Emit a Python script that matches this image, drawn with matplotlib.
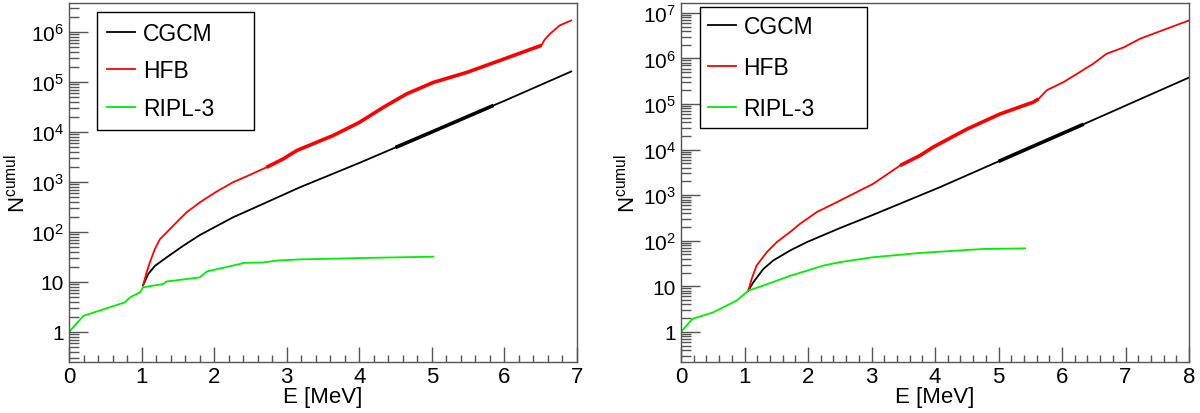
import numpy as np
import matplotlib
matplotlib.use("Agg")
import matplotlib.pyplot as plt
from matplotlib.ticker import LogLocator, MultipleLocator, FuncFormatter, NullFormatter
from matplotlib.lines import Line2D

plt.rcParams['font.family'] = ['Liberation Sans', 'DejaVu Sans']
plt.rcParams['mathtext.fontset'] = 'custom'
plt.rcParams['mathtext.rm'] = 'Liberation Sans'
plt.rcParams['mathtext.it'] = 'Liberation Sans'
plt.rcParams['mathtext.bf'] = 'Liberation Sans:bold'

# ---------------- Data: left panel ----------------
L_cgcm_E = [1.02, 1.093, 1.185, 1.346, 1.575, 1.805, 2.26, 2.72, 3.18, 4.00, 4.50, 5.00, 5.85, 6.00, 6.92]
L_cgcm_N = [8.5, 14.5, 21, 31, 53, 87, 196, 390, 780, 2400, 4900, 1.0e4, 3.4e4, 4.2e4, 1.62e5]

L_hfb_E = [1.02, 1.07, 1.116, 1.185, 1.254, 1.346, 1.506, 1.62, 1.805, 2.035, 2.26, 2.49, 2.72, 2.95, 3.14,
           3.64, 4.00, 4.33, 4.65, 5.02, 5.48, 5.94, 6.51, 6.55, 6.625, 6.76, 6.92]
L_hfb_N = [8.5, 15.6, 25, 46, 72, 98, 169, 247, 392, 643, 986, 1380, 1960, 2880, 4260,
           8500, 1.55e4, 3.1e4, 5.75e4, 9.8e4, 1.55e5, 2.7e5, 5.4e5, 6.9e5, 9.1e5, 1.35e6, 1.7e6]

L_ripl_E = [0.0, 0.20, 0.77, 0.84, 0.98, 1.02, 1.30, 1.345, 1.80, 1.90, 2.36, 2.40, 2.67, 2.90, 3.18, 4.00, 5.02]
L_ripl_N = [1.0, 2.1, 3.9, 4.9, 6.2, 7.8, 9.1, 10.2, 12.3, 16.2, 22.9, 24, 24.5, 27, 28.2, 30, 32]

# ---------------- Data: right panel ----------------
R_cgcm_E = [1.06, 1.139, 1.296, 1.454, 1.717, 1.98, 2.504, 3.028, 4.08, 5.00, 6.34, 7.00, 8.00]
R_cgcm_N = [8.06, 12.3, 24, 37, 61, 93, 190, 372, 1500, 5500, 3.6e4, 9.2e4, 3.8e5]

R_hfb_E = [1.06, 1.113, 1.19, 1.35, 1.507, 1.717, 1.874, 2.137, 2.504, 3.028, 3.45, 3.764, 3.97, 4.50,
           5.02, 5.55, 5.63, 5.76, 6.02, 6.28, 6.49, 6.70, 6.97, 7.23, 7.49, 8.00]
R_hfb_N = [8.06, 14.6, 28.5, 56, 93, 155, 235, 425, 760, 1780, 4470, 7400, 1.13e4, 2.8e4,
           6.0e4, 1.1e5, 1.29e5, 2.0e5, 3.0e5, 5.0e5, 7.6e5, 1.26e6, 1.74e6, 2.7e6, 3.7e6, 6.8e6]

R_ripl_E = [0.0, 0.18, 0.51, 0.88, 1.06, 1.296, 1.717, 1.98, 2.24, 2.504, 3.028, 3.764, 4.76, 5.42]
R_ripl_N = [1.0, 1.93, 2.7, 4.9, 8.06, 10.4, 17, 22, 28.5, 34, 43.6, 54, 66, 68]

labels = ['CGCM', 'HFB', 'RIPL-3']
colors = ['black', '#ff0000', '#00ee00']

W, H = 1200, 414
fig = plt.figure(figsize=(W / 100, H / 100), dpi=100)

def px_axes(x0, x1, y0, y1):
    return fig.add_axes([x0 / W, 1 - y1 / H, (x1 - x0) / W, (y1 - y0) / H])

def ytick_fmt(v, pos):
    if v <= 0:
        return ''
    e = int(round(np.log10(v)))
    if e < 0:
        return ''
    if e == 0:
        return '1'
    if e == 1:
        return '10'
    return r'$10^{%d}$' % e

def style_axes(ax, xmax, ylim):
    ax.set_xlim(0, xmax)
    ax.set_yscale('log')
    ax.set_ylim(*ylim)
    ax.xaxis.set_major_locator(MultipleLocator(1))
    ax.xaxis.set_minor_locator(MultipleLocator(0.2))
    ax.yaxis.set_major_locator(LogLocator(base=10, numticks=20))
    ax.yaxis.set_minor_locator(LogLocator(base=10, subs=np.arange(2, 10), numticks=20))
    ax.yaxis.set_major_formatter(FuncFormatter(ytick_fmt))
    ax.yaxis.set_minor_formatter(NullFormatter())
    ax.tick_params(axis='x', which='major', direction='in', length=11, width=1, color='#555555',
                   labelsize=16, pad=3, top=False)
    ax.tick_params(axis='x', which='minor', direction='in', length=5, width=1, color='#555555', top=False)
    ax.tick_params(axis='y', which='major', direction='in', length=14, width=1, color='#555555',
                   labelsize=15, pad=3.5, right=False)
    ax.tick_params(axis='y', which='minor', direction='in', length=7.5, width=1, color='#555555', right=False)
    for s in ax.spines.values():
        s.set_color('#555555')
        s.set_linewidth(1.0)
    ax.set_xlabel('E [MeV]', fontsize=16)
    ax.set_ylabel(r'N$^{\rm cumul}$', fontsize=16)

def draw(ax, E, N, color, thick=None):
    E = np.asarray(E); N = np.asarray(N)
    ax.plot(E, N, color=color, lw=1.3, solid_joinstyle='round')
    if thick is not None:
        m = (E >= thick[0]) & (E <= thick[1])
        ax.plot(E[m], N[m], color=color, lw=2.6, solid_capstyle='butt')

def legend(ax, bbox, spacing, bpad):
    handles = [Line2D([], [], color=c, lw=1.3) for c in colors]
    leg = ax.legend(handles, labels, loc='upper left', bbox_to_anchor=bbox, mode='expand',
                    borderaxespad=0, fontsize=16.5, handlelength=1.2, handletextpad=0.35,
                    labelspacing=spacing, borderpad=bpad, fancybox=False, frameon=True,
                    edgecolor='black', framealpha=1)
    leg.get_frame().set_linewidth(1.0)

# left panel
axL = px_axes(69, 577, 4, 363)
style_axes(axL, 7, (0.25, 10 ** 6.58))
draw(axL, L_cgcm_E, L_cgcm_N, colors[0], thick=(4.5, 5.85))
draw(axL, L_hfb_E, L_hfb_N, colors[1], thick=(2.72, 6.51))
draw(axL, L_ripl_E, L_ripl_N, colors[2])
axL.yaxis.set_label_coords(-0.077, 0.5)
axL.xaxis.set_label_coords(0.5, -0.066)
legend(axL, (0.055, 0.975, 0.309, 0.0), 0.62, 0.45)

# right panel
axR = px_axes(681, 1189, 4, 363)
style_axes(axR, 8, (0.219, 10 ** 7.215))
draw(axR, R_cgcm_E, R_cgcm_N, colors[0], thick=(5.0, 6.34))
draw(axR, R_hfb_E, R_hfb_N, colors[1], thick=(3.45, 5.63))
draw(axR, R_ripl_E, R_ripl_N, colors[2])
axR.yaxis.set_label_coords(-0.081, 0.5)
axR.xaxis.set_label_coords(0.5, -0.066)
legend(axR, (0.037, 0.989, 0.329, 0.0), 0.78, 0.36)

fig.savefig('out.png', dpi=100)
